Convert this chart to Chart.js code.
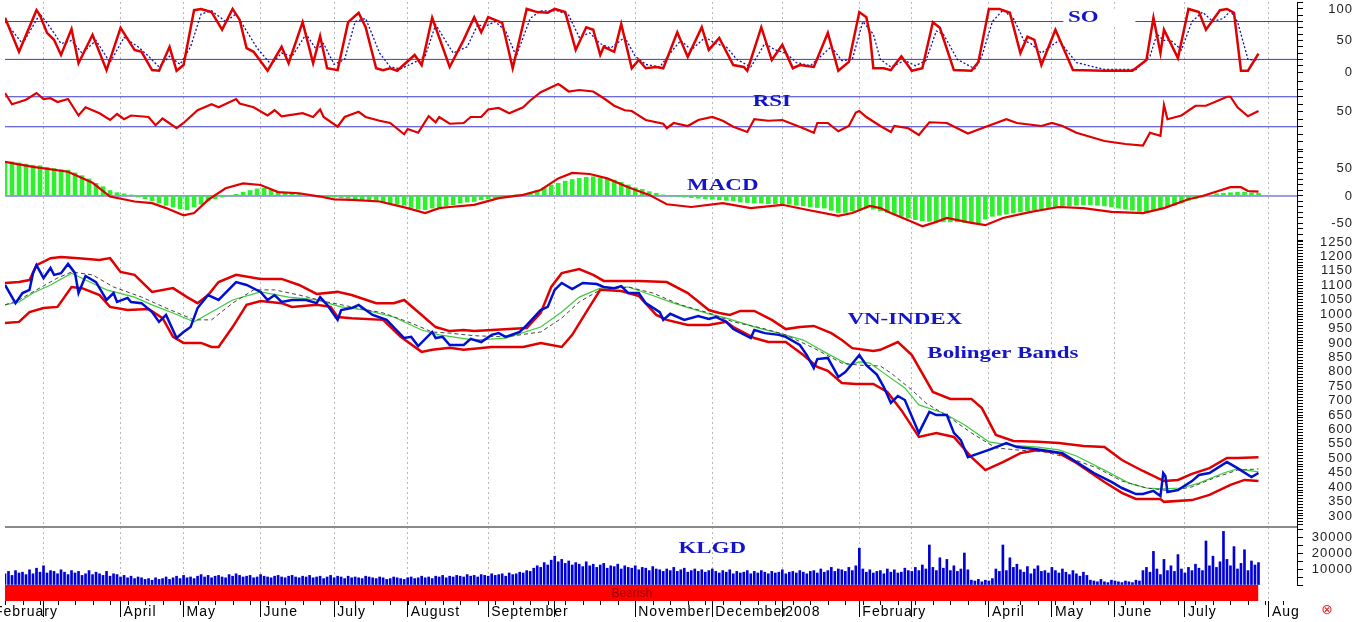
<!DOCTYPE html>
<html>
<head>
<meta charset="utf-8">
<script src="https://cdn.jsdelivr.net/npm/chart.js@4.4.1/dist/chart.umd.min.js"></script>
<style>
  html, body { margin: 0; padding: 0; background: #fff; }
  canvas { display: block; }
</style>
</head>
<body>
<canvas id="chart" width="1370" height="622"></canvas>
<script>
// x = trading day index (0 = late February 2007)
var soK = [[0,86],[4,32],[9,98],[10,90],[12,62],[14,51],[16,27],[19,68],[21,14],[25,59],[29,3],[33,70],[37,35],[39,32],[42,3],[44,2],[47,40],[49,2],[51,11],[54,98],[56,100],[59,95],[62,67],[65,100],[67,83],[69,38],[71,32],[75,2],[79,40],[81,14],[85,79],[88,14],[90,57],[92,6],[95,3],[98,79],[101,94],[103,71],[106,6],[108,3],[110,6],[112,2],[117,27],[119,11],[122,86],[127,8],[131,51],[134,87],[136,63],[138,87],[142,78],[145,6],[149,100],[152,95],[155,94],[157,100],[160,95],[163,35],[166,71],[168,67],[170,27],[171,40],[174,32],[176,76],[179,6],[181,19],[183,6],[186,8],[188,6],[192,63],[195,24],[199,71],[201,35],[204,54],[208,11],[211,8],[212,2],[216,71],[219,19],[222,43],[225,6],[227,11],[231,8],[235,62],[238,2],[241,16],[244,95],[246,87],[247,60],[248,6],[251,6],[253,3],[256,25],[259,2],[262,6],[265,79],[267,70],[271,3],[276,2],[278,16],[281,100],[284,100],[287,94],[290,30],[292,56],[294,51],[296,11],[300,67],[305,3],[314,2],[322,2],[326,19],[328,86],[330,30],[331,67],[335,22],[338,100],[341,95],[343,67],[347,98],[349,100],[351,94],[353,2],[355,2],[358,29]];
var soD = [[0,80],[5,45],[10,92],[13,70],[16,45],[19,50],[22,30],[26,50],[30,15],[34,55],[38,40],[41,25],[44,8],[47,25],[50,12],[53,40],[56,92],[59,97],[63,80],[66,92],[69,65],[72,38],[76,12],[79,30],[82,25],[86,60],[89,35],[91,45],[94,12],[97,20],[100,80],[103,85],[107,30],[110,8],[113,5],[118,18],[120,25],[123,75],[128,30],[132,40],[135,75],[137,72],[140,80],[143,65],[146,25],[150,85],[153,97],[158,97],[161,90],[164,55],[167,62],[170,45],[173,38],[177,55],[180,25],[183,12],[187,8],[190,30],[193,50],[196,35],[200,55],[203,45],[206,40],[209,20],[213,8],[217,45],[220,35],[223,30],[226,15],[230,10],[236,40],[239,18],[242,20],[245,80],[248,60],[250,20],[253,8],[257,18],[260,10],[263,18],[266,65],[268,60],[272,20],[277,5],[279,25],[282,80],[285,98],[288,85],[291,50],[293,45],[296,30],[301,50],[306,15],[314,4],[323,4],[327,25],[329,60],[331,50],[333,50],[336,35],[339,80],[342,95],[345,80],[348,85],[350,97],[352,80],[355,20],[358,18]];
var soLevels = [20, 80];

var rsi = [[0,75],[2,60],[6,66],[9,75],[11,67],[13,68],[15,63],[18,67],[21,45],[23,56],[27,48],[30,39],[32,47],[34,40],[36,45],[41,43],[43,32],[45,41],[49,28],[51,35],[55,52],[59,60],[61,56],[66,67],[67,61],[71,56],[75,45],[77,52],[79,44],[85,48],[88,43],[90,53],[91,43],[95,30],[97,43],[101,50],[103,43],[107,38],[110,35],[114,20],[115,27],[118,22],[121,44],[123,36],[124,43],[127,34],[131,35],[133,43],[136,43],[138,53],[141,55],[144,48],[148,56],[150,65],[153,76],[158,87],[159,84],[161,77],[164,79],[168,77],[171,68],[174,58],[177,52],[179,51],[183,39],[188,34],[189,28],[191,35],[195,31],[198,39],[202,43],[205,38],[208,30],[212,23],[214,40],[218,38],[222,39],[228,28],[231,22],[232,35],[235,35],[238,24],[241,31],[243,49],[244,51],[246,43],[250,31],[253,23],[254,31],[258,28],[261,19],[264,36],[269,35],[275,21],[279,28],[286,40],[289,35],[296,31],[299,35],[302,31],[306,22],[314,11],[320,7],[325,5],[327,22],[330,18],[331,59],[332,40],[336,45],[340,58],[343,58],[349,70],[350,70],[352,56],[355,44],[358,51]];
var rsiLevels = [30, 70];

// one histogram value every second trading day
var macdHist = [
  62,62,60,58,56,55,52,50,48,47, 42,37,31,23,17,10,6,4,2,-2,
  -5,-9,-13,-17,-20,-23,-25,-20,-15,-9, -5,-2,0,3,7,10,13,14,11,8,
  6,5,3,2,0,-1,-2,-2,-3,-4, -5,-7,-8,-10,-11,-13,-15,-17,-21,-24,
  -25,-22,-20,-18,-16,-13,-11,-10,-7,-5, -4,-2,0,2,3,5,10,15,20,23,
  27,30,32,34,35,33,31,29,25,20, 15,12,8,5,2,0,-1,-2,-3,-4,
  -5,-6,-7,-8,-9,-11,-12,-13,-13,-14, -14,-15,-15,-17,-18,-20,-21,-22,-26,-30,
  -30,-27,-24,-22,-24,-27,-30,-33,-37,-40, -43,-45,-46,-47,-47,-47,-47,-48,-48,-49,
  -42,-37,-35,-33,-31,-29,-27,-25,-23,-21, -20,-19,-18,-17,-16,-16,-17,-18,-20,-22,
  -24,-26,-28,-29,-26,-23,-20,-17,-13,-8, -5,-2,1,4,5,6,7,7,6,5
];
var macdSignal = [[0,62],[8,53],[18,44],[25,24],[30,-1],[37,-10],[42,-13],[46,-22],[51,-35],[54,-31],[58,-7],[63,14],[68,23],[73,20],[78,7],[84,5],[90,-1],[94,-6],[99,-7],[107,-10],[115,-22],[120,-31],[124,-22],[127,-20],[134,-16],[141,-4],[148,2],[153,11],[158,32],[162,42],[167,40],[172,32],[178,16],[184,2],[189,-15],[196,-20],[205,-13],[213,-22],[222,-16],[229,-25],[238,-36],[242,-31],[247,-18],[250,-22],[253,-31],[259,-47],[262,-55],[266,-47],[269,-40],[276,-49],[280,-53],[285,-40],[293,-29],[301,-20],[308,-22],[316,-29],[325,-31],[331,-22],[338,-6],[342,0],[350,16],[353,16],[355,9],[358,8]];

var vnIndex = [[0,1101],[3,1038],[5,1073],[7,1084],[8,1142],[9,1170],[11,1125],[13,1160],[14,1136],[16,1142],[18,1174],[20,1142],[21,1073],[23,1132],[26,1111],[29,1049],[31,1073],[32,1042],[35,1056],[36,1042],[39,1038],[42,1007],[44,973],[46,997],[49,917],[51,938],[53,955],[55,1021],[58,1066],[61,1049],[66,1111],[69,1101],[73,1077],[75,1049],[77,1066],[79,1042],[82,1049],[86,1049],[89,1038],[90,1059],[92,1032],[95,980],[96,1014],[99,1021],[101,1032],[105,997],[109,980],[114,917],[116,921],[118,889],[122,938],[123,917],[125,921],[127,893],[131,893],[133,914],[136,903],[139,928],[141,934],[143,921],[147,938],[149,962],[153,1014],[155,1025],[157,1084],[159,1108],[162,1087],[165,1108],[169,1104],[171,1094],[174,1090],[176,1097],[178,1073],[181,1073],[183,1038],[187,1007],[188,980],[190,1001],[194,980],[198,993],[201,983],[203,990],[206,973],[208,948],[213,917],[214,945],[217,934],[221,928],[223,921],[227,893],[229,858],[231,813],[232,844],[235,848],[238,782],[240,799],[244,858],[246,823],[249,790],[251,747],[253,692],[255,716],[257,702],[261,588],[264,661],[266,650],[269,650],[271,588],[273,563],[275,504],[281,529],[286,553],[289,539],[294,532],[298,525],[302,518],[306,487],[311,449],[316,418],[319,397],[323,376],[325,376],[328,387],[330,369],[330.8,449],[331.4,439],[332,383],[335,390],[339,421],[341,442],[344,449],[349,487],[352,466],[356,435],[358,449]];
var bandUpper = [[0,1108],[4,1111],[7,1118],[9,1170],[13,1194],[16,1198],[21,1194],[27,1188],[30,1194],[33,1146],[37,1136],[42,1077],[48,1090],[52,1059],[55,1038],[58,1066],[61,1111],[66,1136],[73,1122],[79,1122],[84,1101],[89,1070],[95,1077],[99,1066],[106,1038],[111,1038],[114,1049],[119,997],[123,955],[127,941],[131,945],[134,941],[139,945],[149,952],[153,1004],[156,1094],[159,1142],[164,1156],[168,1136],[171,1115],[181,1115],[189,1111],[195,1073],[201,1014],[204,1004],[207,997],[210,1011],[214,1011],[219,980],[223,948],[227,955],[231,959],[236,934],[239,910],[242,882],[248,872],[250,876],[255,903],[259,858],[265,730],[270,706],[276,706],[279,674],[283,581],[288,560],[295,557],[301,553],[308,543],[314,539],[319,494],[325,456],[331,421],[335,425],[339,446],[344,466],[349,501],[352,501],[358,504]];
var bandLower = [[0,969],[4,973],[7,1007],[11,1021],[15,1025],[19,1094],[22,1090],[27,1066],[30,1025],[35,1014],[41,1018],[45,986],[48,921],[51,900],[56,900],[59,886],[61,886],[65,955],[69,1032],[73,1045],[79,1038],[82,1025],[89,1032],[93,1025],[95,990],[99,986],[108,980],[113,921],[119,869],[122,876],[127,883],[131,876],[139,886],[148,886],[153,900],[159,886],[162,928],[166,1007],[170,1084],[176,1080],[181,1063],[186,997],[189,980],[195,962],[201,962],[206,973],[208,955],[214,917],[218,903],[223,903],[228,858],[232,817],[235,803],[239,761],[243,758],[248,758],[252,730],[256,667],[261,574],[266,588],[271,574],[276,504],[280,459],[285,487],[290,518],[295,529],[301,518],[306,484],[314,418],[319,380],[323,359],[330,359],[331,349],[339,355],[344,373],[350,408],[354,425],[358,421]];
var maGreen = [[0,1032],[4,1042],[8,1073],[13,1101],[19,1142],[23,1118],[29,1084],[37,1059],[42,1032],[48,1004],[54,973],[59,1007],[65,1049],[73,1077],[81,1059],[89,1049],[96,1025],[103,1014],[111,990],[119,945],[124,928],[134,910],[143,917],[153,955],[159,1007],[164,1059],[170,1090],[178,1094],[183,1073],[191,1038],[201,1001],[206,986],[215,952],[221,934],[228,910],[234,869],[241,823],[244,834],[247,830],[253,778],[257,744],[261,685],[268,657],[274,616],[281,557],[287,546],[295,539],[301,529],[306,508],[314,459],[321,414],[326,397],[331,394],[336,397],[341,414],[348,449],[352,463],[358,453]];
var maDashed = [[0,1032],[4,1049],[9,1084],[15,1125],[19,1146],[25,1136],[31,1094],[39,1059],[46,1021],[54,980],[59,980],[65,1038],[71,1084],[77,1084],[84,1066],[92,1042],[99,1025],[108,1004],[116,969],[122,938],[127,934],[134,925],[143,921],[153,938],[159,986],[164,1042],[170,1084],[178,1094],[185,1073],[193,1032],[201,1004],[208,973],[216,952],[223,928],[231,882],[239,830],[244,823],[250,820],[253,796],[259,737],[263,692],[270,640],[276,588],[283,536],[289,529],[297,522],[304,501],[312,466],[319,421],[326,397],[333,387],[339,401],[346,435],[352,459],[358,463]];

// KLGD, one bar per trading day
var volume = [
  7000,8500,6000,9000,7500,8000,6500,9500,7000,10500,8000,12000,7500,9000,8500,7000,9500,8000,6500,9000,
  7500,8500,6000,7000,9000,6500,8000,7000,6000,8500,5500,7000,6500,5000,6000,4500,5500,4000,5000,4500,
  3500,4000,3000,4500,3500,4000,5000,3500,4500,5500,4000,6000,4500,5000,4000,5500,6500,5000,6000,4500,
  5500,6000,5000,4500,6500,5500,7000,6000,5000,5500,6000,4500,5000,6500,5500,5000,4500,5500,6000,5000,
  4500,5500,6000,5000,4500,5500,5000,6000,4500,5000,5500,4000,5000,6000,4500,5500,5000,4000,5500,4500,
  5000,4500,4000,5500,5000,4500,4000,5000,4500,3500,4000,5000,4500,4000,3500,4500,5000,4000,4500,5500,
  4500,5000,4000,5500,5000,6000,4500,5500,5000,6000,5500,5000,6500,5500,6000,5000,6500,6000,5500,7000,
  6000,6500,7000,5500,7500,6500,7000,8000,7500,9000,8500,10500,12000,11000,14000,12500,15500,18000,14500,16000,
  13500,15000,12500,14000,13000,11500,14500,12000,13000,11000,12500,13500,10500,12000,11500,13000,10000,12000,11000,10500,
  12000,9500,11000,10500,9000,11500,10000,9500,8500,10000,9000,11000,8500,9500,10500,8000,9000,10000,8500,9500,
  8000,9000,10000,8500,7500,9000,8000,9500,7000,8500,7500,8000,9000,7000,8500,7500,9000,8000,7000,8500,
  7500,8000,9500,7000,8000,8500,7500,9000,8000,7000,8500,9000,7500,10000,8000,9000,11000,8500,10000,9500,
  8500,11000,9000,12000,23000,10000,8000,9500,7500,8500,9000,7000,10000,8000,9500,7500,8000,10500,9000,8500,
  11000,9000,12500,10000,25000,11000,9000,17000,10500,16000,9000,12000,8500,10000,20000,9500,3000,2500,3500,2000,
  3000,2500,4000,10000,8500,25000,9000,17000,11000,13000,9500,8000,11500,7000,10000,12000,8500,9000,7500,11000,
  9000,7500,10000,8000,6500,9000,7000,5500,8000,6000,3000,2500,2000,3500,2000,1500,3000,2500,2000,1500,
  2500,2000,1500,3000,2500,9000,11000,8000,21000,10000,6500,16000,9000,12000,8500,19000,10000,7500,11000,9000,
  13000,10500,9000,27500,12000,18000,11000,14500,33500,16000,12000,24000,10000,13500,22000,9000,15000,12500,14000
];

var bearishSpan = [0, 358];
var bearishText = 'Bearish';

var monthTicks = [-4, 11, 33, 51, 73, 94, 115, 138, 157, 180, 202, 222, 244, 259, 281, 299, 317, 337, 361];
var monthLabels = ['February', '', 'April', 'May', 'June', 'July', 'August', 'September', '', 'November', 'December', '2008', 'February', '', 'April', 'May', 'June', 'July', 'Aug'];

var soTickLabels = [0, 50, 100];
var rsiTickLabels = [50];
var macdTickLabels = [-50, 0, 50];
var vnTickLabels = [300, 350, 400, 450, 500, 550, 600, 650, 700, 750, 800, 850, 900, 950, 1000, 1050, 1100, 1150, 1200, 1250];
var volTickLabels = [10000, 20000, 30000];

var X_MAX = 369;

function pts(pairs) {
  return pairs.map(function (p) { return {x: p[0], y: p[1]}; });
}
function level(v) {
  return [{x: 0, y: v}, {x: X_MAX, y: v}];
}

var RED = '#e00000';
var LEVEL_BLUE = '#3a3ad0';

function lineSet(data, axis, color, width, extra) {
  var ds = {
    type: 'line', data: data, yAxisID: axis,
    borderColor: color, borderWidth: width,
    pointRadius: 0, tension: 0, fill: false
  };
  for (var k in extra || {}) ds[k] = extra[k];
  return ds;
}

function panelAxis(min, max, weight, step, labels, show) {
  return {
    type: 'linear', position: 'right', stack: 'panels', stackWeight: weight,
    min: min, max: max, display: true,
    grid: { drawOnChartArea: false, display: show, tickLength: 6, tickColor: '#000', tickWidth: 1 },
    border: { display: show, color: '#000', width: 1 },
    ticks: {
      display: show, autoSkip: false, crossAlign: 'far', padding: 4,
      color: '#222', font: { family: 'Liberation Sans', size: 13 },
      callback: function (v) { return labels.indexOf(v) >= 0 ? String(v) : ''; }
    },
    afterBuildTicks: function (axis) {
      var t = [];
      for (var v = Math.ceil(min / step) * step; v <= max; v += step) t.push({ value: v });
      axis.ticks = t;
    },
    afterFit: function (axis) {
      axis.width = 56;
      axis.paddingTop = 0;
      axis.paddingBottom = 0;
    }
  };
}

var datasets = [
  lineSet(pts(soK), 'ySO', RED, 2.5),
  lineSet(pts(soD), 'ySO', '#1010b0', 1.3, { borderDash: [2, 2] }),
  lineSet(level(soLevels[0]), 'ySO', LEVEL_BLUE, 1, { clip: false }),
  lineSet(level(soLevels[1]), 'ySO', LEVEL_BLUE, 1, { clip: false }),

  lineSet(pts(rsi), 'yRSI', RED, 2.2),
  lineSet(level(rsiLevels[0]), 'yRSI', LEVEL_BLUE, 1, { clip: false }),
  lineSet(level(rsiLevels[1]), 'yRSI', LEVEL_BLUE, 1, { clip: false }),

  lineSet(pts(macdSignal), 'yMACD', RED, 2.2),
  {
    type: 'bar', yAxisID: 'yMACD', grouped: false,
    data: macdHist.map(function (v, i) { return { x: i * 2, y: v }; }),
    backgroundColor: '#2ef02e', borderWidth: 0, barThickness: 4
  },
  lineSet(level(0), 'yMACD', LEVEL_BLUE, 1, { clip: false }),

  lineSet(pts(vnIndex), 'yVN', '#0010d0', 2.5),
  lineSet(pts(bandUpper), 'yVN', RED, 2.5),
  lineSet(pts(bandLower), 'yVN', RED, 2.5),
  lineSet(pts(maDashed), 'yVN', '#444', 1, { borderDash: [4, 3] }),
  lineSet(pts(maGreen), 'yVN', '#3ccc3c', 1.2),

  {
    type: 'bar', yAxisID: 'yVol', grouped: false,
    data: volume.map(function (v, i) { return { x: i, y: v }; }),
    backgroundColor: '#0000d8', borderWidth: 0, barThickness: 2
  },

  lineSet([{ x: bearishSpan[0], y: 1 }, { x: bearishSpan[1], y: 1 }], 'yBar', '#ff0000', 0,
    { fill: 'origin', backgroundColor: '#ff0000' })
];

var textLabels = [
  { text: 'SO', axis: 'ySO', x: 308, y: 86, box: [-20, 52] },
  { text: 'RSI', axis: 'yRSI', x: 219, y: 64 },
  { text: 'MACD', axis: 'yMACD', x: 205, y: 18 },
  { text: 'VN-INDEX', axis: 'yVN', x: 257, y: 980 },
  { text: 'Bolinger Bands', axis: 'yVN', x: 285, y: 862 },
  { text: 'KLGD', axis: 'yVol', x: 202, y: 23000 }
];

var decorations = {
  id: 'decorations',
  beforeDraw: function (chart) {
    chart.ctx.letterSpacing = '1px';
  },
  afterDatasetsDraw: function (chart) {
    var ctx = chart.ctx;
    var xs = chart.scales.x;
    var vol = chart.scales.yVol;
    var bar = chart.scales.yBar;
    ctx.save();
    ctx.letterSpacing = '0px';

    // separator between price and volume panels
    ctx.strokeStyle = '#8a8a8a';
    ctx.lineWidth = 2;
    ctx.beginPath();
    ctx.moveTo(xs.left, vol.top);
    ctx.lineTo(vol.left, vol.top);
    ctx.stroke();

    // short weekly marks along the date axis
    ctx.strokeStyle = '#000';
    ctx.lineWidth = 1;
    ctx.beginPath();
    for (var d = 0; d <= X_MAX; d += 5) {
      var wx = Math.round(xs.getPixelForValue(d)) + 0.5;
      ctx.moveTo(wx, bar.bottom);
      ctx.lineTo(wx, bar.bottom + 4);
    }
    ctx.stroke();

    // panel captions
    textLabels.forEach(function (l) {
      var px = xs.getPixelForValue(l.x);
      var py = chart.scales[l.axis].getPixelForValue(l.y);
      if (l.box) {
        ctx.fillStyle = '#fff';
        ctx.fillRect(px + l.box[0], py - 9, l.box[1] - l.box[0], 18);
      }
      ctx.save();
      ctx.translate(px, py);
      ctx.scale(1.35, 1);
      ctx.font = 'bold 17px "Liberation Serif"';
      ctx.fillStyle = '#1515c8';
      ctx.textAlign = 'center';
      ctx.textBaseline = 'middle';
      ctx.fillText(l.text, 0, 0);
      ctx.restore();
    });

    // trend bar caption
    ctx.font = '12px "Liberation Sans"';
    ctx.fillStyle = '#9a0000';
    ctx.textAlign = 'center';
    ctx.textBaseline = 'middle';
    ctx.fillText(bearishText, (xs.getPixelForValue(bearishSpan[0]) + xs.getPixelForValue(bearishSpan[1])) / 2, (bar.top + bar.bottom) / 2 + 1);

    ctx.font = '14px "DejaVu Sans"';
    ctx.fillStyle = '#e03030';
    ctx.fillText('\u2297', vol.left + 30, bar.bottom + 9);
    ctx.restore();
  }
};

new Chart(document.getElementById('chart'), {
  data: { datasets: datasets },
  options: {
    responsive: false,
    animation: false,
    devicePixelRatio: 1,
    layout: { padding: { left: 5, top: 2, right: 17, bottom: 0 }, autoPadding: false },
    plugins: { legend: { display: false }, tooltip: { enabled: false } },
    scales: {
      x: {
        type: 'linear', min: 0, max: X_MAX, position: 'bottom', offset: false,
        grid: { offset: false, color: '#b8b8b8', lineWidth: 1, tickLength: 16, tickColor: '#000', tickBorderDash: [] },
        border: { display: false, dash: [2, 3] },
        ticks: {
          autoSkip: false, maxRotation: 0, minRotation: 0, align: 'start',
          labelOffset: 3, padding: -13, color: '#000',
          font: { family: 'Liberation Sans', size: 14 },
          callback: function (v, i) { return monthLabels[i]; }
        },
        afterBuildTicks: function (axis) {
          axis.ticks = monthTicks.map(function (v) { return { value: v }; });
        },
        afterFit: function (axis) {
          axis.height = 21;
          axis.paddingLeft = 0;
          axis.paddingRight = 0;
        }
      },
      ySO: panelAxis(-9.5, 111, 76, 10, soTickLabels, true),
      yRSI: panelAxis(-1, 95, 72, 10, rsiTickLabels, true),
      yMACD: panelAxis(-80, 83.6, 90, 10, macdTickLabels, true),
      yVN: panelAxis(261.8, 1256.9, 287, 10, vnTickLabels, true),
      yVol: panelAxis(0, 36250, 58, 5000, volTickLabels, true),
      yBar: panelAxis(0, 1, 16, 1, [], false)
    }
  },
  plugins: [decorations]
});
</script>
</body>
</html>
